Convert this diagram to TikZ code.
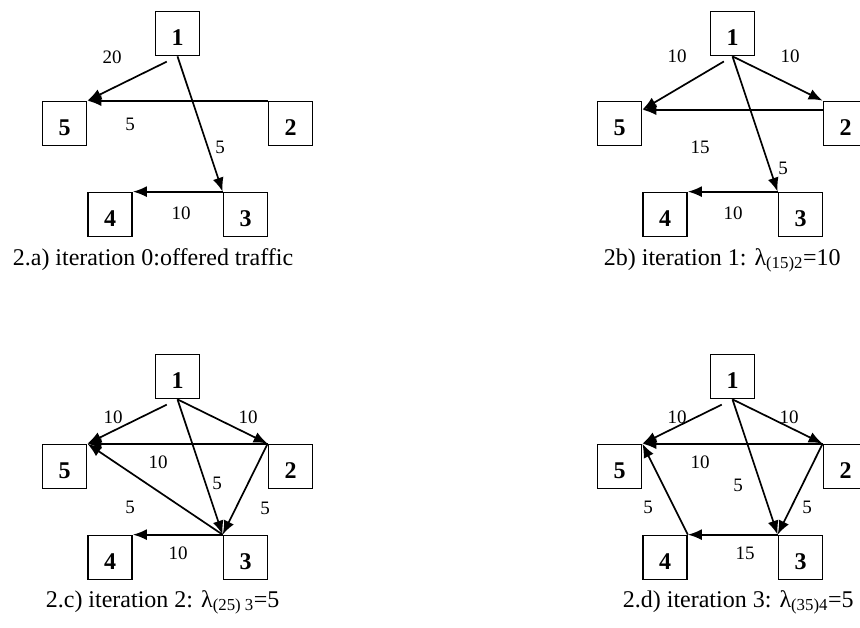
\documentclass[tikz,border=0pt]{standalone}
\usepackage{fontspec}
\setmainfont{Liberation Serif}
\usetikzlibrary{arrows.meta}
\tikzset{
    nbox/.style={draw, line width=1.7pt, minimum size=44pt, inner sep=0pt, text height=24pt, text depth=0pt, font=\fontsize{24}{24}\selectfont\bfseries},
    lbl/.style={font=\fontsize{19}{19}\selectfont, inner sep=0pt},
    captxt/.style={font=\fontsize{24}{24}\selectfont, anchor=base west, inner sep=0pt},
}
\begin{document}
\begin{tikzpicture}[x=1pt, y=-1pt, line width=1.7pt, >={Latex[length=14pt,width=11pt]}]
\useasboundingbox (0,0) rectangle (860,627);
% 2.a
\begin{scope}[name prefix=a-]
\foreach \n/\x/\y in {1/177.5/33.5, 5/64.5/123.5, 2/290.5/123.5, 4/110/214.5, 3/245.5/214.5}
{
    \node[nbox](\n) at (\x,\y){\n};
}
\draw[->, shorten <=12pt](1.south)--(5.north east);
\draw[->](2.north west)--(5.north east);
\draw[->](1.south)--(3.north west);
\draw[->](3.north west)--(4.north east);
\node[lbl](l15) at (112,57){20};
\node[lbl](l25) at (130,124){5};
\node[lbl](l13) at (220,147){5};
\node[lbl](l34) at (181,213){10};
\end{scope}
% 2b
\begin{scope}[shift={(555,0)}, name prefix=b-]
\foreach \n/\x/\y in {1/177.5/33.5, 5/64.5/123.5, 2/290.5/123.5, 4/110/214.5, 3/245.5/214.5}
{
    \node[nbox](\n) at (\x,\y){\n};
}
\coordinate (p5) at ([yshift=-9pt]5.north east);
\coordinate (p2) at ([yshift=-9pt]2.north west);
\draw[->, shorten <=10pt](1.south)--(p5);
\draw[->](1.south)--(2.north west);
\draw[->](p2)--(p5);
\draw[->](1.south)--(3.north west);
\draw[->](3.north west)--(4.north east);
\node[lbl](l15) at (122,56){10};
\node[lbl](l12) at (235,56){10};
\node[lbl](l25) at (145,147){15};
\node[lbl](l13) at (228,168){5};
\node[lbl](l34) at (178,213){10};
\end{scope}
% 2.c
\begin{scope}[shift={(0,343)}, name prefix=c-]
\foreach \n/\x/\y in {1/177.5/33.5, 5/64.5/123.5, 2/290.5/123.5, 4/110/214.5, 3/245.5/214.5}
{
    \node[nbox](\n) at (\x,\y){\n};
}
\draw[->, shorten <=12pt](1.south)--(5.north east);
\draw[->](1.south)--(2.north west);
\draw[->](2.north west)--(5.north east);
\draw[->](1.south)--(3.north west);
\draw[->](2.north west)--(3.north west);
\draw[->](3.north west)--(5.north east);
\draw[->](3.north west)--(4.north east);
\node[lbl](l15) at (113,74){10};
\node[lbl](l12) at (248,74){10};
\node[lbl](l25) at (158,119){10};
\node[lbl](l13) at (217,140){5};
\node[lbl](l35) at (130,164){5};
\node[lbl](l23) at (265,165){5};
\node[lbl](l34) at (178,210){10};
\end{scope}
% 2.d
\begin{scope}[shift={(555,343)}, name prefix=d-]
\foreach \n/\x/\y in {1/177.5/33.5, 5/64.5/123.5, 2/290.5/123.5, 4/110/214.5, 3/245.5/214.5}
{
    \node[nbox](\n) at (\x,\y){\n};
}
\draw[->, shorten <=12pt](1.south)--(5.north east);
\draw[->](1.south)--(2.north west);
\draw[->](2.north west)--(5.north east);
\draw[->](1.south)--(3.north west);
\draw[->](2.north west)--(3.north west);
\draw[->](4.north east)--(5.north east);
\draw[->](3.north west)--(4.north east);
\node[lbl](l15) at (122,74){10};
\node[lbl](l12) at (234,74){10};
\node[lbl](l25) at (145,119){10};
\node[lbl](l13) at (183,142){5};
\node[lbl](l45) at (93,164){5};
\node[lbl](l23) at (252,164){5};
\node[lbl](l34) at (190,210){15};
\end{scope}
% captions
\node[captxt](capa) at (12,265){2.a) iteration 0:offered traffic};
\node[captxt](capb) at (603,265){2b) iteration 1: λ\textsubscript{(15)2}=10};
\node[captxt](capc) at (45,607){2.c) iteration 2: λ\textsubscript{(25) 3}=5};
\node[captxt](capd) at (622,607){2.d) iteration 3: λ\textsubscript{(35)4}=5};
\end{tikzpicture}
\end{document}
